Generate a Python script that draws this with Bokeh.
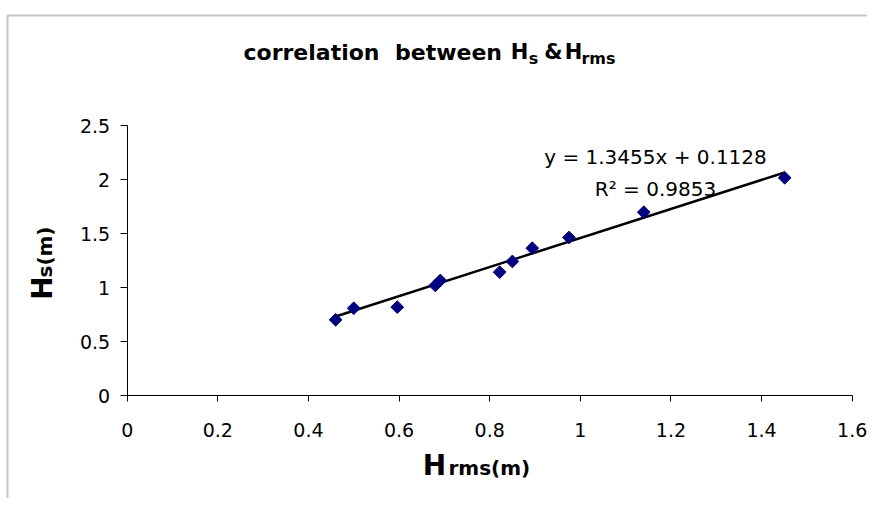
import numpy as np
from bokeh.plotting import figure
from bokeh.models import Label, FixedTicker, Range1d, BoxAnnotation
from bokeh.embed import file_html
from bokeh.resources import INLINE

# ---- data ----
hrms = [0.460, 0.500, 0.596, 0.680, 0.691, 0.822, 0.850, 0.894, 0.975, 1.140, 1.451]
hs = [0.701, 0.808, 0.818, 1.019, 1.065, 1.142, 1.241, 1.364, 1.463, 1.697, 2.016]
slope = 1.3455
intercept = 0.1128
r_squared = 0.9853
x_ticks = [0, 0.2, 0.4, 0.6, 0.8, 1.0, 1.2, 1.4, 1.6]
x_tick_labels = ["0", "0.2", "0.4", "0.6", "0.8", "1", "1.2", "1.4", "1.6"]
y_ticks = [0, 0.5, 1.0, 1.5, 2.0, 2.5]
y_tick_labels = ["0", "0.5", "1", "1.5", "2", "2.5"]

XMAX, YMAX = 1.6, 2.5
W, H = 867, 498
FL, FR, FT, FB = 126.7, 851.7, 125.0, 395.0   # axes box edges in canvas px
SHIFT = 8.5                                    # baseline correction for labels


def xd(px):
    return (px - FL) / (FR - FL) * XMAX


def yd(py):
    return (FB - py) / (FB - FT) * YMAX


p = figure(width=W, height=H, x_range=Range1d(xd(0), xd(W)), y_range=Range1d(yd(H), yd(0)),
           output_backend="svg", toolbar_location=None,
           min_border_left=0, min_border_top=0, min_border_right=0, min_border_bottom=0)
p.outline_line_color = None
p.background_fill_color = "white"
p.border_fill_color = "white"
p.xgrid.visible = False
p.ygrid.visible = False

for ax, ticks, labels, tout, stand, bnd in ((p.xaxis[0], x_ticks, x_tick_labels, 6, 21, (0, XMAX)),
                                            (p.yaxis[0], y_ticks, y_tick_labels, 7, 10, (0, YMAX))):
    ax.fixed_location = 0
    ax.bounds = bnd
    ax.ticker = FixedTicker(ticks=ticks)
    ax.major_label_overrides = {t: l for t, l in zip(ticks, labels)}
    ax.axis_line_color = "black"
    ax.major_tick_line_color = "black"
    ax.major_tick_out = tout
    ax.major_tick_in = 0
    ax.minor_tick_line_color = None
    ax.major_label_text_font = "DejaVu Sans"
    ax.major_label_text_font_size = "19px"
    ax.major_label_text_color = "black"
    ax.major_label_standoff = stand

# chart-area border
p.add_layout(BoxAnnotation(left=xd(7), top=yd(15), right=xd(W + 30), bottom=yd(H + 30),
                           fill_color=None, fill_alpha=0, line_color="#404040", line_width=2))

# trend line
tx = np.array([min(hrms), max(hrms)])
p.line(tx, slope * tx + intercept, line_color="black", line_width=2.5)
# points
p.scatter(hrms, hs, marker="square", angle=np.pi / 4, size=9,
          fill_color="#000080", line_color="#000080")


def lab(text, px, py, size, bold=False, align="center", angle=0.0):
    if angle:
        px -= SHIFT
    else:
        py -= SHIFT
    p.add_layout(Label(x=xd(px), y=yd(py), text=text, text_font="DejaVu Sans",
                       text_font_size=f"{size}px", text_font_style="bold" if bold else "normal",
                       text_align=align, text_baseline="alphabetic", text_color="black",
                       angle=angle))


# title
lab("correlation", 311, 60, 22, True)
lab("between", 448, 60, 22, True)
lab("H", 519, 60, 21, True)
lab("s", 533, 66, 16, True)
lab("&", 553, 60, 21, True)
lab("H", 573, 60, 21, True)
lab("rms", 598, 66, 16, True)

# equation
lab(f"y = {slope}x + {intercept}", 655, 165, 20)
lab(f"R\u00b2 = {r_squared}", 655, 197, 20)

# x axis label
lab("H", 434, 473, 28, True)
lab("rms(m)", 448, 476, 20, True, align="left")

# y axis label (rotated)
lab("H", 50, 287.5, 28, True, angle=np.pi / 2)
lab("s(m)", 53, 251.5, 20, True, angle=np.pi / 2)

open("out.html", "w").write(file_html(p, INLINE))
